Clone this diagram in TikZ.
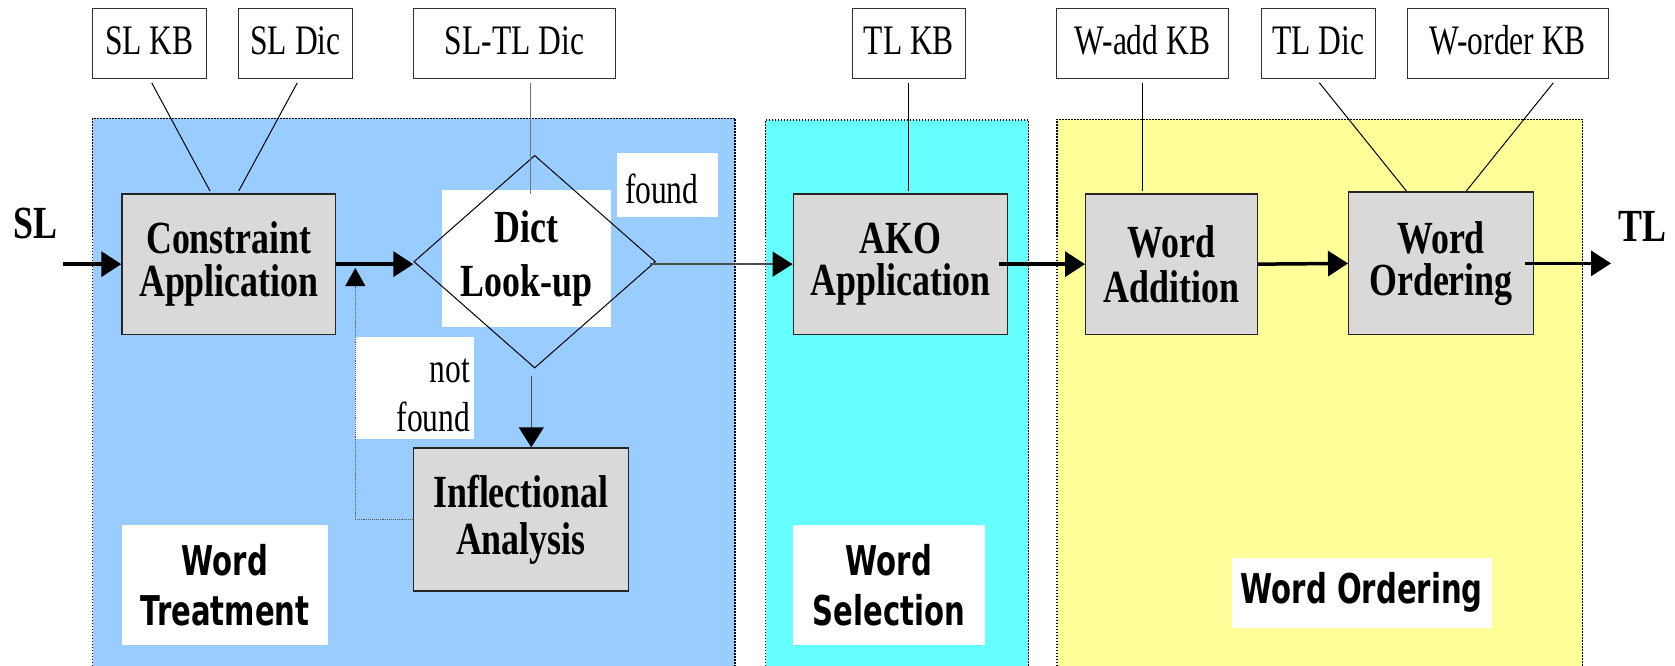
\documentclass[tikz,border=0pt]{standalone}
\usepackage{fontspec}
\usetikzlibrary{arrows.meta,shapes.geometric}
\newfontfamily\serR[FakeStretch=0.75]{Liberation Serif}
\newfontfamily\serB[FakeStretch=0.78]{Liberation Serif}
\newfontfamily\sanB[FakeStretch=0.71]{DejaVu Sans}
\definecolor{blueR}{HTML}{99CCFF}
\definecolor{cyanR}{HTML}{66FFFF}
\definecolor{yellowR}{HTML}{FFFF99}
\definecolor{boxgray}{HTML}{D9D9D9}
\tikzset{
  topbox/.style={draw=black!80, line width=1pt, fill=white, inner sep=0pt,
    text height=30pt, text depth=8pt, font=\fontsize{42}{44}\serR\selectfont},
  gbox/.style={draw=black!85, line width=1.4pt, fill=boxgray, inner sep=0pt,
    align=center, font=\fontsize{46}{42.5}\serB\bfseries},
  wbox/.style={fill=white, inner sep=0pt},
  sanslab/.style={fill=white, inner sep=0pt, align=center,
    font=\fontsize{41}{50}\sanB\bfseries},
  regborder/.style={line width=1.5pt, dash pattern=on 1.5pt off 1.5pt},
  flow/.style={line width=3.5pt, -{Triangle[length=20pt,width=25pt]}},
  thinflow/.style={line width=1.4pt, draw=black!70, -{Triangle[length=20pt,width=25pt,color=black]}},
  link/.style={line width=1pt},
  graylink/.style={line width=1.4pt, draw=black!55},
  fback/.style={line width=0.9pt, draw=black!65, densely dotted, -{Triangle[length=18pt,width=20pt,color=black]}},
  biglab/.style={inner sep=0pt, font=\fontsize{46}{46}\serB\bfseries},
  plainlab/.style={inner sep=0pt, font=\fontsize{42}{48.7}\serR\selectfont},
}
\begin{document}
\begin{tikzpicture}[x=1pt, y=-1pt]
\useasboundingbox (0,0) rectangle (1675,666);
% regions
\fill[blueR] (92.7,118.3) rectangle (735,666);
\draw[regborder] (92.7,666) -- (92.7,118.3) -- (735,118.3) -- (735,666);
\fill[cyanR] (765.7,120) rectangle (1028.3,666);
\draw[regborder] (765.7,666) -- (765.7,120) -- (1028.3,120) -- (1028.3,666);
\fill[yellowR] (1057,119.3) rectangle (1582.3,666);
\draw[regborder] (1057,666) -- (1057,119.3) -- (1582.3,119.3) -- (1582.3,666);

% white label boxes
\node[wbox, minimum width=101pt, minimum height=64pt] (fbox) at (667.8,185.3) {};
\node[plainlab, anchor=base west] (ftext) at ([shift={(7.7,18)}]fbox.west) {found};
\node[wbox, minimum width=118.7pt, minimum height=102.6pt] (nfbox) at (414.65,388) {};
\node[plainlab, align=right, anchor=south east] (nftext) at ([shift={(-4,-7.6)}]nfbox.south east) {not\\found};
\node[sanslab, minimum width=206.5pt, minimum height=119.4pt] (wt) at (225,585) {Word\\Treatment};
\node[sanslab, minimum width=191.5pt, minimum height=119.4pt] (ws) at (889,585) {Word\\Selection};
\node[sanslab, minimum width=260pt, minimum height=70pt] (wol) at (1361.7,592.7) {Word Ordering};

% decision
\node[wbox, minimum width=168.4pt, minimum height=136.4pt, align=center,
      font=\fontsize{46}{54.7}\serB\bfseries] (dtext) at (526.5,258.5) {Dict\\Look-up};
\node[diamond, draw=black, line width=1pt, minimum width=241.7pt, minimum height=212.7pt, inner sep=0pt] (dl) at (534.7,261.7) {};

% process boxes
\node[gbox, minimum width=213.7pt, minimum height=140.3pt] (ca) at (228.85,264.15) {Constraint\\Application};
\node[gbox, minimum width=214.4pt, minimum height=140.3pt] (ako) at (900.5,264.15) {AKO\\Application};
\node[gbox, minimum width=171.8pt, minimum height=140.3pt, font=\fontsize{46}{45}\serB\bfseries] (wa) at (1171.6,264.15) {Word\\Addition};
\node[gbox, minimum width=184.6pt, minimum height=142.6pt] (wo) at (1441,263.4) {Word\\Ordering};
\node[gbox, minimum width=214.7pt, minimum height=143pt, font=\fontsize{46}{47}\serB\bfseries] (ia) at (520.85,519.5) {Inflectional\\Analysis};

% knowledge sources
\node[topbox, minimum width=113.6pt, minimum height=70pt] (slkb) at (149.5,43.3) {SL KB};
\node[topbox, minimum width=113.6pt, minimum height=70pt] (sldic) at (295.5,43.3) {SL Dic};
\node[topbox, minimum width=201.6pt, minimum height=70pt] (sltl) at (514.5,43.3) {SL-TL Dic};
\node[topbox, minimum width=113.7pt, minimum height=70pt] (tlkb) at (908.85,43.3) {TL KB};
\node[topbox, minimum width=172pt, minimum height=70pt] (wadd) at (1142.3,43.3) {W-add KB};
\node[topbox, minimum width=114.3pt, minimum height=70pt] (tldic) at (1318.15,43.3) {TL Dic};
\node[topbox, minimum width=201.3pt, minimum height=70pt] (word) at (1507.65,43.3) {W-order KB};

% SL / TL labels
\node[biglab, anchor=base west] (sl) at (13.3,238.3) {SL};
\node[biglab, anchor=base west] (tl) at (1618.3,241.7) {TL};
\coordinate (slin) at (63.3,264.15);
\coordinate (tlout) at (1611,263.4);
\coordinate (fbtip) at (355.3,268);

% links from knowledge sources
\draw[link] ([shift={(2.2,4)}]slkb.south) -- ([shift={(-18.85,-2.3)}]ca.north);
\draw[link] ([shift={(1.8,4)}]sldic.south) -- ([shift={(9.85,-2.3)}]ca.north);
\draw[graylink] ([shift={(16.2,4)}]sltl.south) -- ([shift={(16.2,4)}]sltl.south |- dtext.north);
\draw[link] ([yshift=-4pt]tlkb.south) -- ([yshift=2.3pt]tlkb.south |- ako.north);
\draw[link] ([yshift=-4pt]wadd.south) -- ([yshift=2.3pt]wadd.south |- wa.north);
\draw[link] ([shift={(1.2,4)}]tldic.south) -- ([shift={(-34.3,0)}]wo.north);
\draw[link] ([shift={(45.65,4)}]word.south) -- ([shift={(25,0)}]wo.north);

% flow
\draw[flow] (slin) -- (ca.west);
\draw[flow] (ca.east) -- (ca.east -| dl.west);
\draw[thinflow] ([xshift=-6pt]dl.east |- ako.west) -- (ako.west);
\draw[flow] ([xshift=-9pt]ako.east) -- (wa.west);
\draw[flow] (wa.east) -- (wo.west);
\draw[flow] ([xshift=-9pt]wo.east) -- (tlout);
\draw[thinflow, shorten <=7pt] ([xshift=-3.4pt]dl.south) -- ([xshift=-3.4pt]dl.south |- ia.north);
\draw[fback] (ia.west) -| (fbtip);
\end{tikzpicture}
\end{document}
